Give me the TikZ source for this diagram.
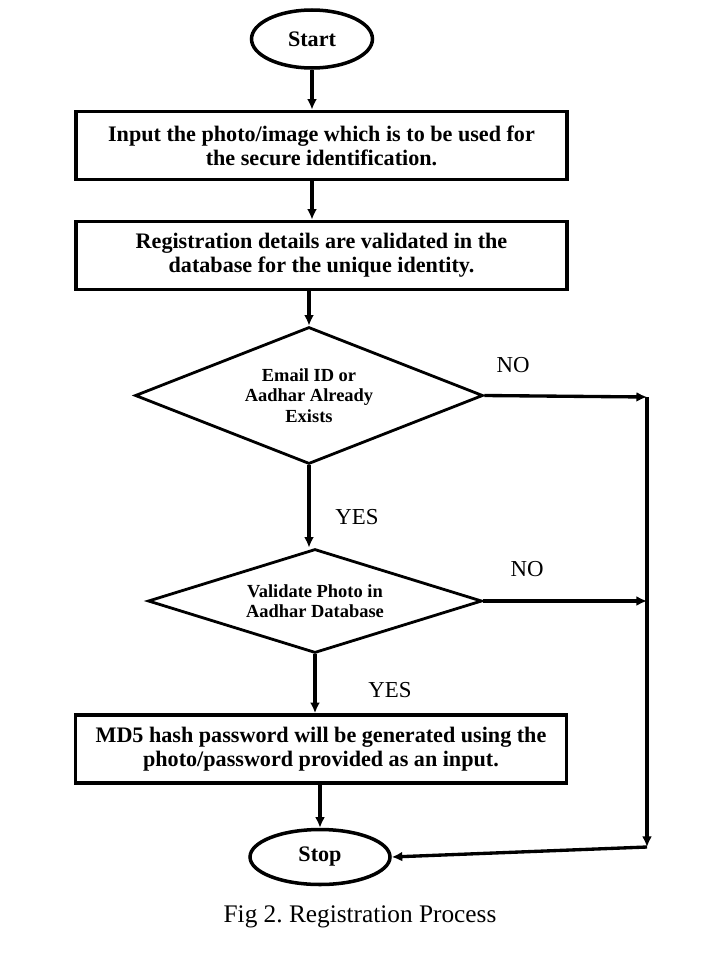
\documentclass[tikz,border=0pt]{standalone}
\usepackage{fontspec}
\setmainfont{Liberation Serif}
\usetikzlibrary{arrows.meta,positioning,shapes.geometric}

\begin{document}
\frenchspacing
\begin{tikzpicture}[x=0.02cm, y=-0.02cm,
    term/.style={draw, ellipse, line width=2pt, inner sep=0pt, minimum width=2.42cm, minimum height=1.16cm, font=\fontsize{12.6}{15}\selectfont\bfseries},
    box/.style={draw, line width=2.1pt, inner sep=0pt, minimum width=9.82cm, minimum height=1.36cm, align=center, font=\fontsize{12.6}{13.8}\selectfont\bfseries},
    decision/.style={draw, diamond, line width=1.6pt, inner sep=0pt, align=center, font=\fontsize{10.5}{11.6}\selectfont\bfseries},
    arr/.style={line width=1.9pt, -{Latex[length=6pt, width=5.6pt]}},
    lbl/.style={font=\fontsize{13}{15}\selectfont}]
  \useasboundingbox (0,0) rectangle (715,960);
  \node[term] (start) at (312,39) {Start};
  \node[box] (input) at (321.5,145.5) {Input the photo/image which is to be used for\\the secure identification.};
  \node[box] (check) at (321.5,255.5) {Registration details are validated in the\\database for the unique identity.};
  \node[decision, aspect=2.54, minimum width=6.96cm, minimum height=2.74cm] (exists) at (309,395.5) {Email ID or\\Aadhar Already\\Exists};
  \node[decision, aspect=3.2, minimum width=6.68cm, minimum height=2.08cm] (photo) at (315,601) {Validate Photo in\\Aadhar Database};
  \node[box] (hash) at (321,749) {MD5 hash password will be generated using the\\photo/password provided as an input.};
  \node[term, minimum width=2.8cm, minimum height=1.1cm] (stop) at (320,857) {Stop};
  \coordinate (j1) at (647,397);
  \coordinate (j3) at (647,847);
  % main column
  \draw[arr] (start) -- (start |- input.north);
  \draw[arr] (input.south -| start) -- (check.north -| start);
  \draw[arr] (check.south -| exists.north) -- (exists.north);
  \draw[arr] (exists.south) -- (exists.south |- photo.north);
  \draw[arr] (photo.south) -- (photo.south |- hash.north);
  \draw[arr] (hash.south -| stop.north) -- (stop.north);
  % NO branches
  \draw[arr] (exists.east) -- (j1);
  \draw[arr] (photo.east) -- (photo.east -| j1);
  \draw[arr] (j1) -- (j3);
  \draw[arr] (j3) -- (stop.east);
  \node[lbl] (no1) at (513,365) {NO};
  \node[lbl] (no2) at (527,569) {NO};
  \node[lbl] (yes1) at (357,517) {YES};
  \node[lbl] (yes2) at (390,690) {YES};
  \node[font=\fontsize{14.4}{17}\selectfont] (caption) at (360,917) {Fig 2. Registration Process};
\end{tikzpicture}
\end{document}
